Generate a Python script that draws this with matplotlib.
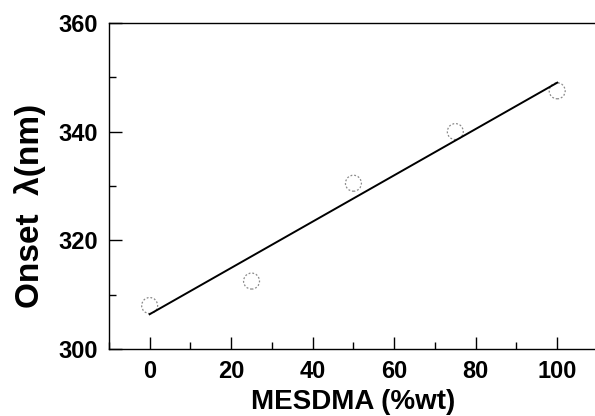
import matplotlib
matplotlib.use('Agg')
import matplotlib.pyplot as plt
from matplotlib.ticker import MultipleLocator

plt.rcParams['font.family'] = ['Liberation Sans', 'DejaVu Sans']

# measured onset wavelengths
mesdma = [0, 25, 50, 75, 100]
onset = [308.0, 312.5, 330.5, 340.0, 347.5]

# linear fit line endpoints
fit_x = [0, 100]
fit_y = [306.4, 349.0]

fig = plt.figure(figsize=(5.95, 4.16), dpi=100)
ax = fig.add_axes([0.183, 0.161, 0.822, 0.784])

ax.scatter(mesdma, onset, s=11.5**2, facecolors='none', edgecolors='#8a8a8a',
           linewidths=0.9, linestyles=(0, (1.5, 1.5)))
ax.plot(fit_x, fit_y, color='black', lw=1.4)

ax.set_xlim(-10, 110)
ax.set_ylim(300, 360)
ax.xaxis.set_major_locator(MultipleLocator(20))
ax.xaxis.set_minor_locator(MultipleLocator(10))
ax.yaxis.set_major_locator(MultipleLocator(20))
ax.yaxis.set_minor_locator(MultipleLocator(10))
ax.tick_params(which='both', direction='in', top=False, right=False)
ax.tick_params(which='major', length=9, width=1, pad=8, labelsize=17)
ax.tick_params(which='minor', length=5, width=1)
ax.spines['right'].set_visible(False)
for s in ['left', 'bottom', 'top']:
    ax.spines[s].set_linewidth(1)

for lab in ax.get_xticklabels() + ax.get_yticklabels():
    lab.set_fontweight('bold')

ax.set_xlabel('MESDMA (%wt)', fontsize=20, fontweight='bold', labelpad=4)
ax.set_ylabel('Onset  λ(nm)', fontsize=24, fontweight='bold', labelpad=9, y=0.44)

fig.savefig('out.png', dpi=100)
